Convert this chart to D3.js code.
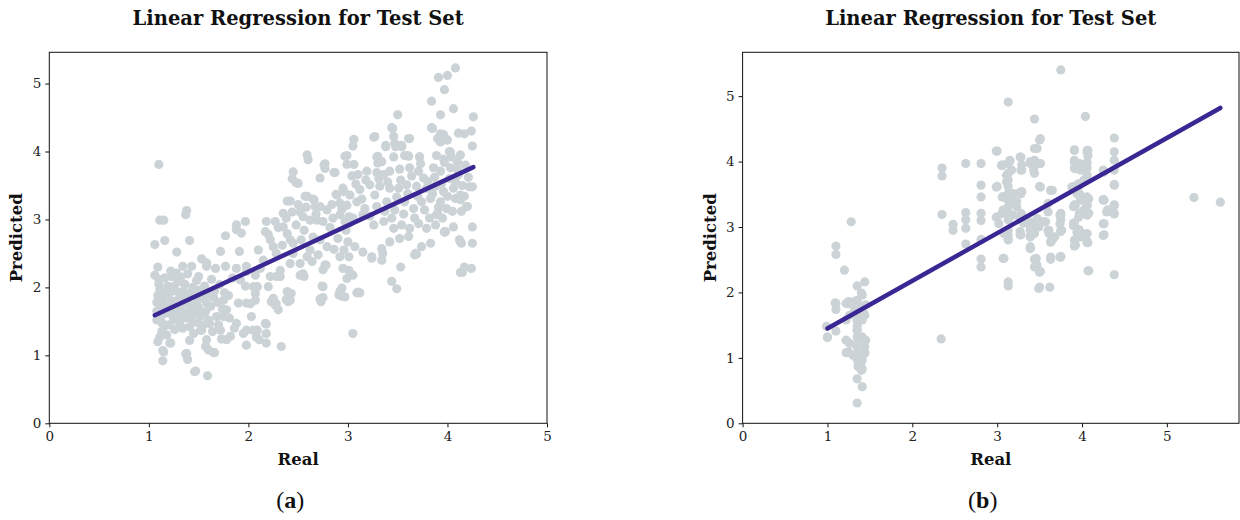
<!DOCTYPE html>
<html><head><meta charset="utf-8">
<script src="https://cdn.jsdelivr.net/npm/d3@7"></script>
<style>
body{margin:0;background:#fff;}
svg{display:block;}
</style></head>
<body>
<svg id="chart" width="1240" height="520"></svg>
<script>
// ---------------- DATA ----------------
const titleText = "Linear Regression for Test Set";
const xLabel = "Real";
const yLabel = "Predicted";
const panelLabels = ["a", "b"];
const xTicksA = [0,1,2,3,4,5];
const yTicksA = [0,1,2,3,4,5];
const xTicksB = [0,1,2,3,4,5];
const yTicksB = [0,1,2,3,4,5];
const xDomainA = [0,5], yDomainA = [0,5.46];
const xDomainB = [0,5.85], yDomainB = [0,5.67];

const lineA = [[1.06,1.59],[4.26,3.77]];
const lineB = [[1.00,1.45],[5.63,4.82]];

const pointsA = [
[1.10,3.81],[1.11,2.99],[1.15,2.99],[1.06,2.63],[1.16,2.69],[1.28,2.52],[1.37,3.07],[1.38,3.13],[1.41,2.69],
[1.09,2.30],[1.06,2.18],[1.14,0.92],[1.14,1.07],[1.09,1.20],[1.22,1.18],[1.37,1.02],[1.39,0.94],[1.41,1.22],
[1.47,0.77],[1.59,0.70],[1.66,1.04],[1.57,1.13],[1.60,1.08],
[1.23,2.16],[1.28,2.21],[1.34,2.31],[1.43,2.31],[1.50,2.16],[1.58,2.31],[1.67,2.28],[1.77,2.31],[1.88,2.28],[1.92,2.11],[1.97,2.02],[1.98,2.31],
[1.11,1.96],[1.18,1.86],[1.25,2.01],[1.35,1.77],[1.41,1.91],[1.48,1.77],[1.58,1.77],[1.65,1.86],[1.75,1.81],[1.78,1.67],[1.68,1.57],[1.61,1.47],
[1.52,1.37],[1.41,1.42],[1.31,1.47],[1.25,1.52],[1.15,1.42],[1.11,1.27],[1.21,1.18],[1.15,1.05],[1.38,1.03],[1.58,1.23],[1.65,1.04],[1.78,1.23],
[1.82,1.28],[1.88,1.47],[1.90,1.77],[1.98,1.77],[1.95,1.32],[1.98,1.15],[1.46,0.76],[1.53,1.37],[1.72,1.37],[1.75,1.57],
[1.53,2.42],[1.58,2.36],[1.72,2.53],[1.77,2.76],[1.88,2.92],[1.97,2.97],[1.91,2.53],[1.88,2.85],[1.93,2.80],
[1.08,1.52],[1.08,1.65],[1.08,1.78],[1.09,1.88],[1.10,2.05],[1.10,2.12],[1.12,1.58],[1.12,1.70],[1.13,1.35],[1.13,1.48],[1.14,1.82],[1.15,1.95],
[1.16,2.14],[1.17,1.62],[1.18,1.30],[1.19,1.72],[1.19,2.02],[1.20,1.45],[1.21,1.92],[1.22,2.24],[1.23,1.60],[1.24,1.80],[1.26,1.38],[1.27,1.70],
[1.27,1.95],[1.29,2.08],[1.30,1.58],[1.31,1.85],[1.32,2.15],[1.33,1.66],[1.34,1.40],[1.35,1.95],[1.36,2.05],[1.37,1.55],[1.38,1.84],[1.39,2.20],
[1.40,1.65],[1.42,1.74],[1.43,1.52],[1.44,2.00],[1.45,1.32],[1.46,1.62],[1.47,1.88],[1.48,2.10],[1.49,1.48],[1.50,1.70],[1.51,1.96],[1.52,1.58],
[1.54,1.84],[1.55,1.45],[1.56,2.02],[1.57,1.64],[1.59,1.90],[1.60,1.52],[1.62,1.72],[1.63,2.12],[1.64,1.35],[1.66,1.95],[1.69,1.78],[1.70,1.45],
[1.71,2.04],[1.73,1.24],[1.74,1.68],[1.76,1.92],[1.80,1.88],[1.81,1.55],[1.84,2.14],[1.86,1.40],
[2.59,3.95],[2.60,3.88],[2.77,3.82],[2.77,3.75],[2.87,3.69],[2.45,3.70],[2.44,3.60],[2.50,3.53],[2.72,3.61],[2.97,3.93],[2.99,3.81],[2.89,3.36],
[2.39,3.27],[2.42,3.27],[2.59,3.34],[2.65,3.30],[2.67,3.19],[2.72,3.19],[2.79,3.14],[2.35,3.09],[2.44,3.11],[2.52,3.11],[2.55,3.04],[2.62,2.99],
[2.69,2.99],[2.75,2.97],[2.85,3.02],[2.92,3.07],[2.18,2.97],[2.27,2.97],[2.17,2.82],[2.22,2.70],[2.25,2.60],[2.35,2.89],[2.39,2.79],[2.42,2.70],
[2.45,2.65],[2.53,2.70],[2.62,2.55],[2.64,2.38],[2.72,2.70],[2.79,2.60],[2.92,2.45],[2.96,2.55],[2.77,2.33],[2.75,2.26],[2.74,2.02],[2.72,1.83],
[2.92,1.94],[2.94,1.87],[2.52,2.18],[2.42,2.35],[2.45,2.50],[2.32,2.25],[2.28,2.16],[2.22,2.16],[2.20,2.01],[2.12,2.28],[2.07,2.18],[1.98,2.23],
[2.05,2.01],[2.07,1.91],[2.07,1.81],[2.02,1.76],[2.25,1.84],[2.28,1.76],[2.30,1.67],[2.39,1.94],[2.42,1.81],[2.03,1.57],[2.17,1.47],[2.18,1.32],
[1.98,1.37],[2.05,1.37],[2.08,1.27],[2.18,1.18],[2.33,1.13],[2.92,3.24],[2.96,3.41],[3.01,3.04],[3.01,2.94],[3.01,2.45],[3.01,2.25],
[2.73,1.79],[2.75,1.85],[2.75,2.01],[2.78,2.33],[2.11,1.23],[2.09,1.37],[2.18,1.46],[2.23,1.79],[2.27,1.74],[2.38,1.82],[2.40,1.79],[2.43,1.91],
[2.32,2.16],[2.56,2.16],[2.55,2.20],[2.09,2.01],[2.52,2.35],[2.59,2.45],[2.86,3.69],[2.88,3.37],[2.66,3.29],[2.57,3.34],[2.48,3.54],[2.76,3.80],
[2.10,2.55],[2.15,2.40],[2.20,2.78],[2.28,2.50],[2.30,2.88],[2.34,2.62],[2.38,3.02],[2.48,2.92],[2.50,3.22],[2.56,2.84],[2.58,3.18],[2.65,2.74],
[2.68,3.08],[2.70,2.48],[2.82,2.88],[2.84,3.22],[2.86,2.56],[2.90,2.72],[2.94,3.15],[2.98,2.84],
[4.08,5.23],[4.00,5.12],[3.91,5.09],[3.97,4.91],[3.84,4.74],[3.93,4.54],[4.06,4.63],[3.50,4.54],[3.84,4.35],[3.44,4.35],[3.46,4.22],[3.27,4.22],
[3.06,4.18],[3.05,4.08],[3.38,4.09],[3.47,4.12],[3.54,4.09],[3.62,4.19],[3.93,4.26],[3.96,4.25],[3.99,4.17],[3.93,4.14],[4.11,4.27],[2.99,3.94],
[3.06,3.81],[3.29,3.92],[3.34,3.85],[3.46,3.92],[3.57,3.94],[3.60,3.94],[3.72,3.92],[3.89,3.94],[3.96,3.89],[4.03,3.99],[4.10,3.85],
[3.04,3.64],[3.10,3.66],[3.19,3.71],[3.29,3.69],[3.36,3.66],[3.42,3.71],[3.52,3.74],[3.62,3.76],[3.71,3.71],[3.76,3.61],[3.86,3.76],[3.93,3.71],
[4.03,3.76],[4.11,3.66],[2.95,3.46],[3.02,3.36],[3.12,3.44],[3.22,3.51],[3.32,3.49],[3.42,3.46],[3.51,3.46],[3.59,3.51],[3.69,3.49],[3.79,3.46],
[3.88,3.49],[3.96,3.41],[4.06,3.46],[4.13,3.36],[2.99,3.21],[3.09,3.26],[3.17,3.16],[3.29,3.19],[3.39,3.26],[3.47,3.14],[3.57,3.26],[3.66,3.16],
[3.74,3.26],[3.83,3.31],[3.93,3.26],[3.99,3.16],[4.08,3.31],[2.97,2.97],[3.05,3.02],[3.15,3.07],[3.26,2.92],[3.36,2.97],[3.46,2.87],[3.54,2.92],
[3.62,2.87],[3.71,2.94],[3.79,2.87],[3.89,3.07],[3.98,2.82],[4.06,2.89],[3.00,2.67],[3.07,2.60],[3.15,2.52],[3.24,2.45],[3.34,2.57],[3.34,2.40],
[3.42,2.67],[3.52,2.72],[3.61,2.75],[3.68,2.50],[3.74,2.60],[3.83,2.65],[2.95,2.28],[3.05,2.18],[2.99,2.13],[3.10,1.93],[2.97,1.86],[3.53,2.30],
[3.44,2.09],[3.49,1.98],[3.05,1.32],[4.13,2.67],[4.13,2.22],[3.24,2.43],[3.35,2.50],[3.67,2.48],[3.09,1.92],[3.12,1.92],[2.91,1.89],[2.94,1.99],
[3.26,4.21],[3.30,3.93],[3.30,3.83],[3.38,4.07],[3.45,4.34],[3.48,4.07],[3.54,4.07],[3.61,4.19],[3.72,3.92],[3.61,3.93],
[4.26,4.51],[4.24,4.30],[4.17,4.26],[4.25,4.08],[4.25,3.48],[4.25,2.89],[4.14,2.65],[4.25,2.65],[4.17,2.30],[4.24,2.28],[4.15,2.22],[4.20,3.19],
[4.13,3.29],[3.97,2.82],[3.69,2.49],[3.85,4.34],[3.90,4.19],[4.00,4.17],[4.02,4.00],[4.13,3.95],[4.12,2.70],[4.22,3.48],[4.17,3.34],[4.19,3.19],
[3.88,2.92],[3.90,3.09],[3.97,2.81],
[3.08,3.52],[3.14,3.30],[3.18,3.58],[3.22,3.05],[3.27,3.36],[3.31,3.60],[3.37,3.12],[3.40,3.55],[3.44,3.02],[3.49,3.33],[3.53,3.58],[3.56,3.08],
[3.60,3.38],[3.64,3.64],[3.67,3.02],[3.70,3.34],[3.73,3.82],[3.77,3.14],[3.80,3.56],[3.82,3.02],[3.85,3.38],[3.87,3.62],[3.91,3.18],[3.94,3.52],
[3.97,3.84],[4.00,3.34],[4.02,3.60],[4.05,3.12],[4.08,3.56],[4.10,3.74],[4.15,3.50],[4.18,3.80],[4.21,3.62],[4.14,3.12],[4.04,3.92],[3.95,3.02]
];

const pointsB = [
[1.00,1.32],[1.10,1.83],[1.10,1.74],[1.10,2.71],[1.10,2.58],[1.10,1.41],[1.20,2.34],[1.28,3.08],[1.22,1.83],[1.26,1.83],[1.32,1.86],
[1.22,1.27],[1.22,1.08],[1.26,1.22],[1.35,2.10],[1.44,2.16],[1.41,1.96],[1.35,0.68],[1.41,0.56],[1.35,0.31],[1.41,0.83],
[1.35,1.63],[1.35,1.48],[1.35,1.32],[1.35,1.17],[1.35,0.97],[1.41,1.32],[1.45,1.27],[1.44,1.08],[1.41,0.97],[1.37,0.92],[1.30,1.04],[1.35,1.43],
[1.43,1.68],[1.41,1.58],[1.32,1.73],[1.26,1.65],[1.22,1.58],[1.45,1.81],
[1.40,1.99],[1.35,1.88],[1.09,1.84],[1.25,1.86],[1.40,1.78],[1.44,1.65],[1.35,1.57],[1.35,1.42],[1.36,1.27],[1.44,1.17],[1.25,1.09],[1.35,1.07],
[1.44,1.07],[1.35,0.99],[1.40,0.94],[1.36,0.87],[1.40,0.81],[1.00,1.31],[0.99,1.48],
[2.34,1.29],[2.35,3.90],[2.35,3.78],[2.35,3.19],[2.48,3.04],[2.48,2.95],[2.63,3.97],[2.63,3.22],[2.63,3.11],[2.63,2.98],[2.63,2.74],
[2.81,3.97],[2.81,3.64],[2.81,3.46],[2.81,3.21],[2.81,3.10],[2.81,2.81],[2.81,2.51],[2.81,2.39],[3.00,4.16],[3.00,3.62],[3.00,3.15],[3.08,2.52],
[3.13,4.91],[3.06,3.94],[3.13,3.97],[3.13,3.82],[3.13,3.72],[3.13,3.62],[3.13,3.51],[3.13,3.41],[3.13,3.31],[3.13,3.21],[3.13,3.11],[3.13,2.95],
[3.13,2.81],[3.06,3.46],[3.06,3.21],[3.02,3.05],[3.08,2.90],[3.13,2.16],[3.13,2.10],[3.23,3.39],[3.23,3.31],[3.28,3.51],[3.28,4.07],[3.28,3.87],
[3.28,3.21],[3.28,3.11],[3.28,2.88],[3.39,2.95],[3.39,2.67],[3.39,2.85],[3.41,3.00],[3.44,4.65],[3.44,4.20],[3.39,3.97],[3.44,4.02],[3.44,3.82],
[3.50,3.97],[3.50,4.33],[3.50,3.62],[3.44,3.03],[3.44,2.90],[3.49,3.00],[3.55,3.08],[3.44,2.51],[3.44,2.39],[3.50,2.31],[3.50,2.08],[3.62,2.08],
[3.60,3.36],[3.60,3.23],[3.60,2.95],[3.63,2.77],[3.63,3.56],[3.63,2.51],[3.75,5.40],[3.75,3.21],[3.75,3.11],[3.75,2.95],[3.75,2.54],[3.68,2.85],
[3.91,4.18],[3.91,4.02],[3.91,3.90],[3.97,3.97],[4.01,3.92],[4.06,4.15],[4.06,3.90],[4.06,3.79],[4.04,4.69],[3.91,3.62],[3.97,3.64],[3.91,3.34],
[3.91,3.06],[3.91,2.71],[3.91,2.80],[3.97,3.51],[4.01,3.41],[3.97,3.21],[4.06,3.44],[4.07,3.21],[4.06,3.34],[3.97,2.95],[3.97,2.85],[4.06,2.90],
[4.07,2.76],[4.07,2.33],[4.26,3.05],[4.26,2.88],[4.26,3.41],[4.30,3.26],[4.38,4.36],[4.38,4.15],[4.38,4.02],[4.38,3.87],[4.38,3.65],[4.38,3.34],
[4.38,3.21],[4.38,2.27],[4.26,3.84],[5.32,3.45],[5.63,3.38],
[2.99,4.16],[4.07,4.17],[4.07,4.09],[3.05,3.94],[3.15,4.02],[3.27,4.07],[3.29,3.87],[3.41,3.97],[3.43,3.87],[3.51,3.97],[2.99,3.61],[3.29,3.54],
[3.65,3.56],[3.92,3.92],[3.98,3.87],[4.25,3.87],[3.90,3.61],[3.96,3.66],[4.02,3.71],[4.06,3.46],[3.98,3.41],[3.90,3.31],[4.06,3.18],[3.96,3.15],
[4.02,3.26],[4.25,3.41],[4.29,3.23],[4.38,3.33],[4.38,3.20],[4.25,3.05],[4.25,2.87],[2.99,3.15],[3.07,3.26],[3.19,3.36],[3.19,3.51],[3.27,3.15],
[3.39,3.00],[3.47,3.06],[3.57,3.08],[3.61,2.90],[3.65,2.80],[3.39,2.70],[3.45,2.50],[3.51,2.32],[3.63,2.51],[3.75,2.55],[3.75,2.93],[3.75,3.18],
[3.90,3.06],[3.96,2.96],[4.02,2.85],[3.92,2.73],[4.06,2.78],[4.08,2.33],[3.07,2.52],[3.27,2.88],[3.31,3.06],
[3.06,3.95],[3.15,4.00],[3.17,3.87],[3.11,3.79],[3.11,3.69],[3.07,3.46],[3.15,3.43],[3.21,3.38],[3.27,3.53],[3.13,3.23],[3.19,3.18],[3.29,3.18],
[3.27,2.93],[3.13,2.87],[3.13,2.80],[3.39,3.08],[3.43,2.98],[3.47,3.13],[3.39,2.85],[3.39,2.67],[3.46,2.52],[3.47,2.42],[3.49,2.06],[3.29,3.95],
[3.39,4.00],[3.43,3.95],[3.47,4.20],[3.51,4.35],
[3.91,4.17],[4.06,4.17],[3.91,3.99],[3.92,3.89],[4.02,3.87],[4.06,3.99],[4.38,3.64],[3.51,3.61],[3.63,3.56],[3.88,3.61],[3.94,3.51],[4.00,3.46],
[4.08,3.43],[4.06,3.33],[3.92,3.33],[4.00,3.21],[4.08,3.21],[4.25,3.42],[4.31,3.26],[3.45,3.05],[3.53,3.08],[3.61,2.95],[3.63,2.77],[3.74,3.18],
[3.74,3.05],[3.76,2.95],[3.90,3.02],[3.94,2.92],[3.98,2.85],[4.04,2.85],[4.06,2.76],[3.92,2.72],[3.63,2.54],[3.74,2.54]
];

// ---------------- STYLE ----------------
const dotColor = "#ccd3d7";
const lineColor = "#3b2793";
const serif = "'DejaVu Serif', serif";

const svg = d3.select("#chart");

const panels = [
  {pts: pointsA, line: lineA, xd: xDomainA, yd: yDomainA, xt: xTicksA, yt: yTicksA,
   left: 49.3, right: 547, label: panelLabels[0], ylabX: 22},
  {pts: pointsB, line: lineB, xd: xDomainB, yd: yDomainB, xt: xTicksB, yt: yTicksB,
   left: 742.6, right: 1239, label: panelLabels[1], ylabX: 716}
];
const plotTop = 52.3, plotBottom = 423.3;

panels.forEach(p => {
  const x = d3.scaleLinear().domain(p.xd).range([p.left, p.right]);
  const y = d3.scaleLinear().domain(p.yd).range([plotBottom, plotTop]);
  const g = svg.append("g");

  g.append("g").selectAll("circle").data(p.pts).join("circle")
    .attr("cx", d => x(d[0])).attr("cy", d => y(d[1])).attr("r", 4.6)
    .attr("fill", dotColor);

  g.append("path").datum(p.line)
    .attr("d", d3.line().x(d => x(d[0])).y(d => y(d[1])))
    .attr("stroke", lineColor).attr("stroke-width", 4.5)
    .attr("stroke-linecap", "round").attr("fill", "none");

  g.append("rect").attr("x", p.left).attr("y", plotTop)
    .attr("width", p.right - p.left).attr("height", plotBottom - plotTop)
    .attr("fill", "none").attr("stroke", "#111").attr("stroke-width", 1);

  const xa = g.append("g").attr("transform", `translate(0,${plotBottom})`)
    .call(d3.axisBottom(x).tickValues(p.xt).tickFormat(d3.format("d")).tickSize(4).tickPadding(4));
  const ya = g.append("g").attr("transform", `translate(${p.left},0)`)
    .call(d3.axisLeft(y).tickValues(p.yt).tickFormat(d3.format("d")).tickSize(4).tickPadding(4));
  [xa, ya].forEach(a => {
    a.select(".domain").remove();
    a.selectAll("text").attr("font-family", serif).attr("font-size", 13.5).attr("fill", "#222");
    a.selectAll("line").attr("stroke", "#111");
  });

  const cx = (p.left + p.right) / 2;
  g.append("text").attr("x", cx).attr("y", 25).attr("text-anchor", "middle")
    .attr("font-family", serif).attr("font-weight", "bold").attr("font-size", 19.5)
    .attr("fill", "#111").text(titleText);
  g.append("text").attr("x", cx).attr("y", 465).attr("text-anchor", "middle")
    .attr("font-family", serif).attr("font-weight", "bold").attr("font-size", 16.5)
    .attr("fill", "#111").text(xLabel);
  g.append("text").attr("transform", `translate(${p.ylabX},${(plotTop + plotBottom) / 2}) rotate(-90)`)
    .attr("text-anchor", "middle")
    .attr("font-family", serif).attr("font-weight", "bold").attr("font-size", 16.5)
    .attr("fill", "#111").text(yLabel);

  const lab = g.append("text").attr("x", cx - 8).attr("y", 508).attr("text-anchor", "middle")
    .attr("font-family", "'Liberation Serif', serif").attr("font-size", 24).attr("fill", "#111");
  lab.append("tspan").text("(");
  lab.append("tspan").attr("font-weight", "bold").text(p.label);
  lab.append("tspan").text(")");
});
</script>
</body></html>
